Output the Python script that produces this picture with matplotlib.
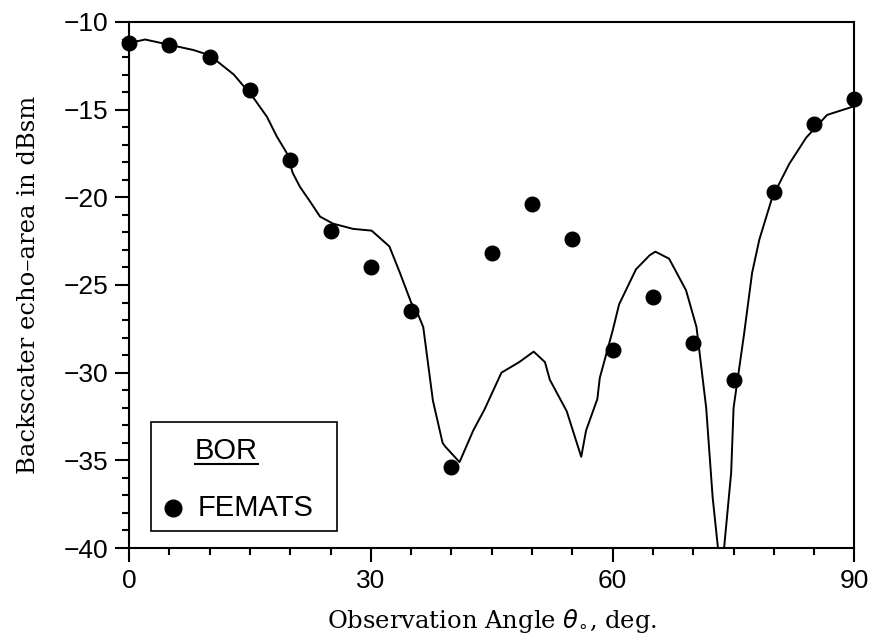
import numpy as np
import matplotlib.pyplot as plt
from matplotlib.patches import Rectangle

# FEMATS points
femats_angle = [0, 5, 10, 15, 20, 25, 30, 35, 40, 45, 50, 55, 60, 65, 70, 75, 80, 85, 90]
femats_rcs = [-11.2, -11.3, -12.0, -13.9, -17.9, -21.9, -24.0, -26.5, -35.4, -23.2,
              -20.4, -22.4, -28.7, -25.7, -28.3, -30.4, -19.7, -15.8, -14.4]

# BOR curve
bor_angle = [0, 2, 5, 8, 10, 13, 15.4, 17.1, 18.3, 19.6, 20.3, 21.2, 22.4, 23.7, 25.3,
             27.8, 30.1, 32.3, 33.6, 35.0, 35.7, 36.5, 37.7, 38.9, 39.2, 41.0, 42.7,
             44.1, 46.2, 48.4, 50.2, 51.6, 52.2, 54.3, 56.1, 56.7, 58.1, 58.4, 60.0,
             60.8, 62.9, 64.6, 65.3, 67.0, 69.1, 70.4, 71.6, 72.4, 73.2, 73.7, 74.7,
             75.0, 76.3, 77.3, 78.2, 79.8, 81.9, 84.0, 86.6, 90.0]
bor_rcs = [-11.2, -11.0, -11.3, -11.6, -11.9, -13.0, -14.3, -15.4, -16.5, -17.5, -18.6,
           -19.4, -20.2, -21.1, -21.5, -21.8, -21.9, -22.8, -24.3, -26.0, -26.5, -27.4,
           -31.6, -34.0, -34.2, -35.1, -33.3, -32.1, -30.0, -29.4, -28.8, -29.4, -30.4,
           -32.2, -34.8, -33.3, -31.5, -30.3, -27.6, -26.1, -24.1, -23.3, -23.1, -23.5,
           -25.3, -27.4, -32.0, -37.1, -40.6, -40.6, -35.7, -32.0, -27.8, -24.3, -22.4,
           -20.0, -18.1, -16.6, -15.3, -14.8]

xticks = [0, 30, 60, 90]
yticks = [-40, -35, -30, -25, -20, -15, -10]

fig = plt.figure(figsize=(8.73, 6.37), dpi=100)
ax = fig.add_axes([0.1478, 0.1397, 0.831, 0.8258])

ax.plot(bor_angle, bor_rcs, color='black', lw=1.4)
ax.plot(femats_angle, femats_rcs, 'o', color='black', ms=10.5, clip_on=False, zorder=5)

ax.set_xlim(0, 90)
ax.set_ylim(-40, -10)
ax.set_xticks(xticks)
ax.set_xticks(np.arange(0, 91, 5), minor=True)
ax.set_yticks(yticks)
ax.set_yticks(np.arange(-40, -9, 1), minor=True)
ax.set_yticklabels(['\u2212%d' % abs(v) for v in yticks])

tick_font = 'Liberation Sans'
for lab in ax.get_xticklabels() + ax.get_yticklabels():
    lab.set_fontfamily(tick_font)
    lab.set_fontsize(19)

ax.tick_params(which='major', direction='out', length=10, width=1.5, pad=5)
ax.tick_params(which='minor', direction='out', length=5, width=1.5)
for s in ax.spines.values():
    s.set_linewidth(1.5)

label_font = dict(family='DejaVu Serif', size=17.5)
ax.set_xlabel(r'Observation Angle $\theta_{\circ}$, deg.', fontdict=label_font, labelpad=10)
ax.set_ylabel('Backscater echo\u2013area in dBsm', fontdict=label_font, labelpad=17)

# legend box
ax.add_patch(Rectangle((0.030, 0.032), 0.257, 0.208, transform=ax.transAxes,
                       fill=False, lw=1.2, color='black', zorder=6))
ax.text(0.091, 0.184, 'BOR', transform=ax.transAxes, fontsize=21,
        family=tick_font, va='center', ha='left', zorder=7)
ax.plot([0.091, 0.178], [0.160, 0.160], transform=ax.transAxes, color='black', lw=1.5, zorder=7)
ax.plot([0.061], [0.077], 'o', transform=ax.transAxes, color='black', ms=12, zorder=7)
ax.text(0.094, 0.077, 'FEMATS', transform=ax.transAxes, fontsize=21,
        family=tick_font, va='center', ha='left', zorder=7)

fig.savefig('out.png', dpi=100)
